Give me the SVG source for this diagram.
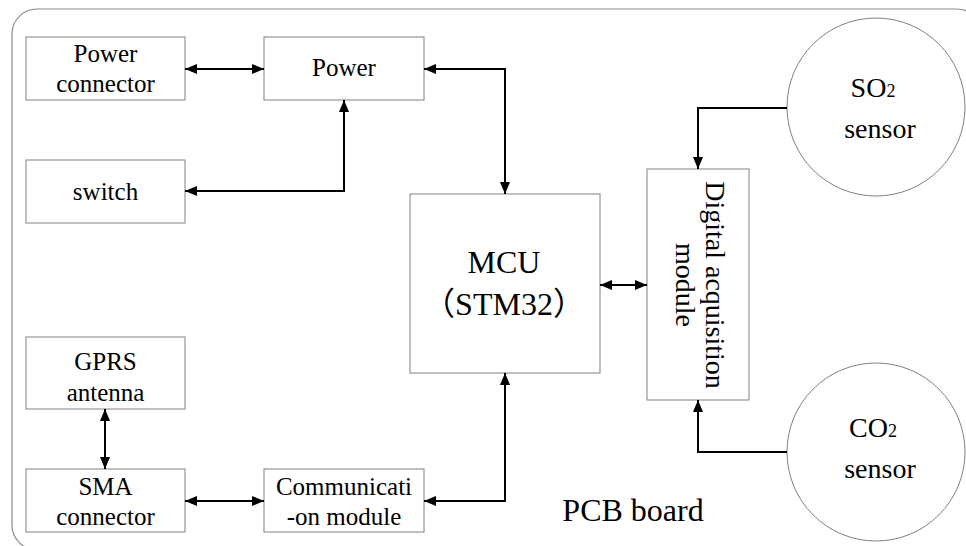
<svg xmlns="http://www.w3.org/2000/svg" width="966" height="546" viewBox="0 0 966 546">
<defs>
<style>
.box{fill:#fff;stroke:#808080;stroke-width:1}
.board{fill:#fff;stroke:#8c8c8c;stroke-width:1.2}
text{font-family:"Liberation Serif","Times New Roman","DejaVu Serif",serif;fill:#000;text-anchor:middle}
.s25{font-size:25px}
.s28{font-size:28px}
.s32{font-size:32px}
.c{fill:none;stroke:#000;stroke-width:2}
</style>
<marker id="ah" viewBox="0 0 12 10" refX="12" refY="5" markerWidth="12" markerHeight="10" markerUnits="userSpaceOnUse" orient="auto-start-reverse">
<path d="M0,0 L12,5 L0,10 z" fill="#000"/>
</marker>
</defs>
<rect class="board" x="12" y="9" width="970" height="541" rx="25" ry="25"/>
<g font-family="Liberation Serif, serif">
<g id="power-connector"><rect class="box" x="26" y="37" width="159" height="63"/><text class="s25" x="105.5" y="62">Power</text><text class="s25" x="105.5" y="92">connector</text></g>
<g id="power"><rect class="box" x="264" y="37" width="160" height="63"/><text class="s25" x="344" y="76">Power</text></g>
<g id="switch"><rect class="box" x="26" y="160" width="159" height="63"/><text class="s25" x="105.5" y="200">switch</text></g>
<g id="mcu"><rect class="box" x="410" y="194" width="190" height="179"/><text class="s32" x="504" y="273">MCU</text><text class="s32" x="504" y="315"><tspan font-family="Noto Sans CJK SC, sans-serif">（</tspan>STM32<tspan font-family="Noto Sans CJK SC, sans-serif">）</tspan></text></g>
<g id="digital"><rect class="box" x="647" y="169" width="102" height="231"/><g transform="translate(698,285) rotate(90)"><text class="s28" x="0" y="-8">Digital acquisition</text><text class="s28" x="0" y="22">module</text></g></g>
<g id="so2"><circle class="box" cx="876" cy="107" r="89"/><text class="s28" x="873" y="97">SO<tspan font-size="18">2</tspan></text><text class="s28" x="880" y="138">sensor</text></g>
<g id="co2"><circle class="box" cx="876" cy="452" r="89"/><text class="s28" x="873" y="437">CO<tspan font-size="18">2</tspan></text><text class="s28" x="880" y="478">sensor</text></g>
<g id="gprs"><rect class="box" x="26" y="337" width="159" height="72"/><text class="s25" x="105.5" y="370">GPRS</text><text class="s25" x="105.5" y="401">antenna</text></g>
<g id="sma"><rect class="box" x="26" y="469" width="159" height="63"/><text class="s25" x="105.5" y="495">SMA</text><text class="s25" x="105.5" y="525">connector</text></g>
<g id="comm"><rect class="box" x="264" y="469" width="160" height="63"/><text class="s25" x="344" y="495">Communicati</text><text class="s25" x="344" y="525">-on module</text></g>
<g id="label"><text class="s32" x="633" y="521">PCB board</text></g>
</g>
<g id="connectors">
<path class="c" d="M185,69 H264" marker-start="url(#ah)" marker-end="url(#ah)"/>
<path class="c" d="M424,69 H505 V194" marker-start="url(#ah)" marker-end="url(#ah)"/>
<path class="c" d="M185,191 H344 V100" marker-start="url(#ah)" marker-end="url(#ah)"/>
<path class="c" d="M600,285 H647" marker-start="url(#ah)" marker-end="url(#ah)"/>
<path class="c" d="M787,108 H698 V169" marker-end="url(#ah)"/>
<path class="c" d="M787,452 H698 V400" marker-end="url(#ah)"/>
<path class="c" d="M105,409 V469" marker-start="url(#ah)" marker-end="url(#ah)"/>
<path class="c" d="M185,501 H264" marker-start="url(#ah)" marker-end="url(#ah)"/>
<path class="c" d="M424,501 H505 V373" marker-start="url(#ah)" marker-end="url(#ah)"/>
</g>
</svg>
